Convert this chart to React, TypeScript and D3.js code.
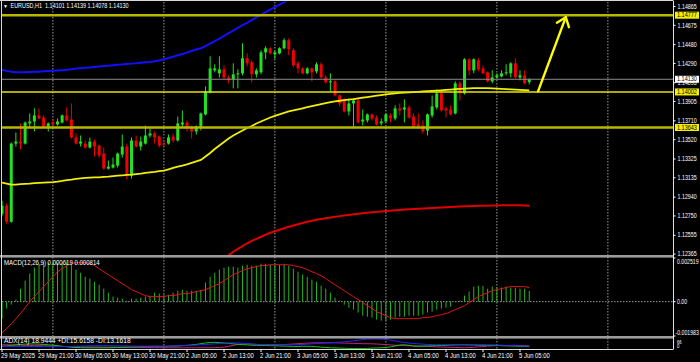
import React from 'react';
import * as d3 from 'd3';

const W = 700;
const H = 362;
const FONT = "'Liberation Sans',Arial,sans-serif";

// ---- categories: H1 bars, 29 May 13:00 .. 5 Jun 07:00
const sessions = [
  { day: '29 May', first: 13, last: 23 },
  { day: '30 May', first: 0, last: 23 },
  { day: '2 Jun', first: 0, last: 23 },
  { day: '3 Jun', first: 0, last: 23 },
  { day: '4 Jun', first: 0, last: 23 },
  { day: '5 Jun', first: 0, last: 7 },
];
const barTimes: string[] = [];
sessions.forEach(s => {
  for (let h = s.first; h <= s.last; h++) barTimes.push(`${s.day} ${String(h).padStart(2, '0')}:00`);
});

const timeTickLabels = ['29 May 2025', '29 May 21:00', '30 May 05:00', '30 May 13:00', '30 May 21:00', '2 Jun 05:00', '2 Jun 13:00', '2 Jun 21:00', '3 Jun 05:00', '3 Jun 13:00', '3 Jun 21:00', '4 Jun 05:00', '4 Jun 13:00', '4 Jun 21:00', '5 Jun 05:00'];
const timeTickBars = [0, 8, 16, 24, 32, 40, 48, 56, 64, 72, 80, 88, 96, 104, 112];
const dayStartBars = [11, 35, 59, 83, 107, 131];

const priceTicks = [1.14865, 1.14675, 1.14480, 1.14290, 1.14095, 1.13905, 1.13710, 1.13520, 1.13325, 1.13135, 1.12940, 1.12750, 1.12555, 1.12365];

// ---- OHLC
const open = [1.12772,1.12853,1.12691,1.13481,1.13501,1.13481,1.13684,1.13704,1.13765,1.13744,1.13653,1.13694,1.13674,1.13694,1.13765,1.13724,1.13542,1.13481,1.13481,1.13441,1.13501,1.13461,1.13380,1.13228,1.13238,1.13258,1.13370,1.13451,1.13157,1.13512,1.13451,1.13481,1.13562,1.13582,1.13552,1.13481,1.13481,1.13552,1.13512,1.13674,1.13694,1.13643,1.13603,1.13653,1.13775,1.13997,1.14220,1.14190,1.14230,1.14149,1.14129,1.14180,1.14190,1.14342,1.14301,1.14180,1.14200,1.14402,1.14443,1.14382,1.14392,1.14443,1.14524,1.14423,1.14291,1.14240,1.14190,1.14240,1.14210,1.14281,1.14149,1.14099,1.14109,1.13967,1.13916,1.13805,1.13886,1.13916,1.13704,1.13714,1.13775,1.13744,1.13684,1.13704,1.13765,1.13734,1.13836,1.13825,1.13846,1.13754,1.13674,1.13663,1.13613,1.13765,1.13846,1.13987,1.13836,1.13825,1.13785,1.14089,1.13987,1.14332,1.14220,1.14321,1.14240,1.14200,1.14109,1.14149,1.14159,1.14190,1.14190,1.14291,1.14149,1.14170,1.14101];
const high = [1.12904,1.12874,1.13491,1.13592,1.13684,1.13704,1.13785,1.13836,1.13836,1.13765,1.13694,1.13724,1.13734,1.13775,1.13846,1.13886,1.13582,1.13562,1.13512,1.13542,1.13522,1.13471,1.13441,1.13309,1.13339,1.13390,1.13572,1.13481,1.13542,1.13562,1.13552,1.13663,1.13633,1.13603,1.13562,1.13512,1.13572,1.13582,1.13754,1.13815,1.13714,1.13663,1.13663,1.13795,1.14058,1.14362,1.14281,1.14362,1.14271,1.14170,1.14291,1.14230,1.14494,1.14392,1.14321,1.14240,1.14423,1.14463,1.14453,1.14423,1.14453,1.14544,1.14544,1.14443,1.14311,1.14251,1.14251,1.14251,1.14301,1.14301,1.14170,1.14190,1.14119,1.13977,1.13937,1.13937,1.13937,1.13937,1.13825,1.13785,1.13785,1.13765,1.13734,1.13785,1.13785,1.13866,1.13886,1.13927,1.13866,1.13785,1.13785,1.13714,1.13785,1.13967,1.14028,1.14028,1.13856,1.13866,1.14109,1.14109,1.14342,1.14342,1.14342,1.14342,1.14271,1.14210,1.14220,1.14190,1.14220,1.14281,1.14301,1.14342,1.14220,1.14220,1.14139];
const low = [1.12752,1.12671,1.12681,1.13451,1.13421,1.13471,1.13643,1.13603,1.13724,1.13643,1.13603,1.13663,1.13663,1.13684,1.13704,1.13532,1.13471,1.13451,1.13431,1.13431,1.13350,1.13339,1.13218,1.13218,1.13228,1.13238,1.13339,1.13117,1.13127,1.13441,1.13410,1.13471,1.13542,1.13481,1.13441,1.13451,1.13471,1.13491,1.13501,1.13643,1.13603,1.13532,1.13572,1.13613,1.13765,1.13987,1.14200,1.14149,1.14129,1.14089,1.14038,1.14038,1.14170,1.14261,1.14099,1.14149,1.14180,1.14332,1.14382,1.14332,1.14382,1.14433,1.14372,1.14251,1.14190,1.14180,1.14180,1.14109,1.14190,1.14139,1.14089,1.14008,1.13957,1.13856,1.13795,1.13765,1.13633,1.13684,1.13663,1.13694,1.13714,1.13663,1.13663,1.13694,1.13694,1.13714,1.13765,1.13694,1.13734,1.13643,1.13633,1.13582,1.13562,1.13744,1.13825,1.13805,1.13744,1.13765,1.13775,1.13916,1.13977,1.14170,1.14190,1.14210,1.14180,1.14099,1.14089,1.14139,1.14149,1.14170,1.14149,1.14139,1.14119,1.14078,1.14078];
const close = [1.12853,1.12691,1.13481,1.13501,1.13481,1.13694,1.13704,1.13765,1.13734,1.13653,1.13684,1.13674,1.13704,1.13765,1.13714,1.13542,1.13481,1.13501,1.13441,1.13501,1.13451,1.13360,1.13228,1.13248,1.13269,1.13380,1.13451,1.13157,1.13512,1.13451,1.13501,1.13562,1.13582,1.13542,1.13461,1.13471,1.13542,1.13512,1.13684,1.13694,1.13643,1.13603,1.13653,1.13785,1.14008,1.14240,1.14240,1.14230,1.14149,1.14119,1.14180,1.14190,1.14342,1.14291,1.14180,1.14220,1.14402,1.14443,1.14392,1.14402,1.14443,1.14524,1.14433,1.14271,1.14240,1.14190,1.14240,1.14200,1.14281,1.14149,1.14099,1.14109,1.13967,1.13886,1.13805,1.13886,1.13916,1.13694,1.13724,1.13775,1.13734,1.13674,1.13704,1.13775,1.13734,1.13836,1.13815,1.13846,1.13744,1.13653,1.13653,1.13603,1.13775,1.13856,1.13987,1.13815,1.13815,1.13775,1.14089,1.13997,1.14332,1.14220,1.14332,1.14230,1.14190,1.14109,1.14149,1.14170,1.14190,1.14200,1.14291,1.14149,1.14170,1.14089,1.14130];

// ---- moving averages
const yellowMA = [1.13086,1.13076,1.13066,1.13066,1.13071,1.13073,1.13076,1.13081,1.13084,1.13086,1.13088,1.13091,1.13096,1.13103,1.13112,1.13117,1.13124,1.13130,1.13134,1.13137,1.13139,1.13140,1.13144,1.13147,1.13152,1.13157,1.13160,1.13164,1.13167,1.13172,1.13177,1.13184,1.13190,1.13195,1.13202,1.13208,1.13221,1.13235,1.13248,1.13258,1.13271,1.13286,1.13301,1.13316,1.13350,1.13385,1.13426,1.13461,1.13496,1.13532,1.13562,1.13587,1.13613,1.13638,1.13658,1.13684,1.13704,1.13724,1.13744,1.13760,1.13775,1.13790,1.13805,1.13815,1.13825,1.13836,1.13848,1.13859,1.13869,1.13879,1.13890,1.13899,1.13906,1.13913,1.13920,1.13925,1.13930,1.13937,1.13944,1.13950,1.13957,1.13964,1.13970,1.13977,1.13982,1.13987,1.13993,1.13996,1.13997,1.14000,1.14003,1.14007,1.14010,1.14012,1.14015,1.14018,1.14022,1.14026,1.14030,1.14033,1.14035,1.14038,1.14040,1.14041,1.14041,1.14040,1.14038,1.14035,1.14033,1.14031,1.14028,1.14025,1.14022,1.14020,1.14018];
const blueMA = [1.14225,1.14215,1.14205,1.14202,1.14202,1.14202,1.14203,1.14205,1.14207,1.14210,1.14213,1.14215,1.14218,1.14222,1.14227,1.14232,1.14238,1.14242,1.14246,1.14250,1.14254,1.14258,1.14263,1.14267,1.14271,1.14276,1.14280,1.14284,1.14288,1.14291,1.14296,1.14301,1.14305,1.14311,1.14321,1.14332,1.14344,1.14357,1.14372,1.14385,1.14399,1.14415,1.14430,1.14443,1.14465,1.14489,1.14516,1.14541,1.14569,1.14595,1.14622,1.14650,1.14676,1.14700,1.14727,1.14754,1.14781,1.14807,1.14833,1.14858,1.14883,1.14909,1.14934,1.14959];
const redMAStart = 46;
const redMA = [1.12246,1.12281,1.12317,1.12352,1.12388,1.12418,1.12446,1.12474,1.12499,1.12519,1.12540,1.12560,1.12580,1.12595,1.12610,1.12625,1.12641,1.12654,1.12666,1.12679,1.12691,1.12702,1.12712,1.12720,1.12727,1.12734,1.12742,1.12748,1.12754,1.12760,1.12767,1.12772,1.12777,1.12783,1.12788,1.12791,1.12795,1.12799,1.12803,1.12807,1.12811,1.12815,1.12818,1.12821,1.12823,1.12826,1.12828,1.12831,1.12833,1.12835,1.12838,1.12840,1.12843,1.12845,1.12848,1.12849,1.12851,1.12852,1.12853,1.12854,1.12855,1.12856,1.12858,1.12858,1.12858,1.12858,1.12858,1.12856,1.12853];

// ---- horizontal levels
const levelPrices = [1.14777, 1.14002, 1.13643];
const bidPrice = 1.14130;
const arrowFrom = { bar: 115.9, price: 1.14008 };
const arrowTo = { bar: 121.9, price: 1.14757 };

// ---- MACD (x1e-5)
const macdMain = [-98,-40,-17,12,75,121,162,196,213,225,225,231,225,225,231,213,185,167,144,133,115,98,75,52,29,23,17,6,17,17,23,29,35,52,46,40,40,52,63,69,63,63,63,69,110,144,167,185,196,202,202,196,208,213,208,208,219,219,213,213,213,219,208,190,173,156,144,127,115,92,75,52,23,6,-17,-35,-46,-63,-81,-87,-92,-104,-110,-110,-104,-92,-87,-87,-81,-81,-81,-75,-63,-58,-46,-40,-35,-29,-3,6,35,58,87,92,92,75,87,81,81,87,81,81,75,75,62];
const macdSignal = [-179,-156,-127,-98,-69,-35,0,29,58,87,115,144,173,190,208,219,225,225,225,219,208,190,173,156,138,121,104,87,69,58,46,35,29,29,29,29,35,35,40,46,46,52,58,63,69,81,92,104,121,138,156,167,179,190,196,202,208,208,213,213,213,213,213,208,202,196,185,173,162,150,133,115,98,81,63,46,29,12,-6,-23,-40,-58,-69,-81,-92,-98,-98,-98,-98,-98,-98,-92,-92,-87,-81,-75,-69,-58,-46,-35,-23,-6,12,29,40,52,63,69,75,81,87,87,87,87,81];
const macdTicks = [251.9, 0, -198.3];
const macdTickLabels = ['0.002519', '0.00', '-0.001983'];

// ---- ADX(14)
const adx = [18,18,17,17,16,16,16,16,16,16,16,16,16,16,16,17,18,19,20,21,22,22,22,22,21,21,20,20,19,19,19,18,18,18,18,18,19,20,21,22,23,24,26,28,30,32,34,36,38,40,41,40,38,36,33,31,29,28,28,28,28,28,28,28,29,30,32,34,36,38,40,41,43,45,47,50,54,58,62,65,66,66,65,63,58,53,47,43,39,36,34,32,30,29,28,28,28,28,28,28,28,28,28,28,28,27,27,26,25,24,23,22,21,20,19];
const plusDI = [18,20,24,28,30,32,33,33,32,30,28,25,22,18,15,12,10,9,8,8,8,8,8,8,9,10,11,12,13,14,15,16,17,18,18,17,18,19,20,22,24,27,30,35,40,43,44,42,40,37,34,31,29,27,25,24,24,23,22,21,20,19,18,17,17,18,18,17,15,12,10,8,7,6,5,4,3,3,3,4,6,7,8,10,14,20,26,28,24,20,18,19,20,21,22,23,24,26,27,28,28,27,26,25,25,24,24,23,22,21,20,19,18,17,16];
const minusDI = [28,28,27,26,25,24,23,22,22,21,20,19,18,17,16,15,15,15,14,14,13,13,12,12,12,12,12,12,11,11,10,10,9,9,9,8,8,8,8,8,8,8,8,8,8,8,9,10,12,18,24,30,33,34,32,30,29,28,28,28,28,29,31,33,35,37,39,40,41,41,41,41,41,40,39,38,37,36,35,35,34,33,31,29,27,25,24,22,21,20,19,18,17,16,14,13,12,11,10,9,8,9,11,14,17,19,21,22,23,23,24,24,23,22,21];

const macdTitle = 'MACD(12,26,9) 0.000619 0.000814';
const adxTitle = 'ADX(14) 18.9444 +DI:15.6158 -DI:13.1618';
const symbolTitle = 'EURUSD,H1';

function T({ x, y, children, fill = '#fff', size = 6.5, sx = 0.85 }: any) {
  return (
    <text transform={`translate(${x},${y}) scale(${sx},1)`} fontSize={size} fill={fill} style={{ whiteSpace: 'pre' }}>
      {children}
    </text>
  );
}

export default function App() {
  const right = 673;
  const x = d3.scaleLinear().domain([0, 114]).range([2, 2 + 114 * 4.625]);
  const y = d3.scaleLinear().domain([1.13643, 1.14777]).range([127.5, 15.2]);
  const ym = d3.scaleLinear().domain([-198.3, 251.9]).range([336, 258]);
  const ya = d3.scaleLinear().domain([0, 66]).range([349, 339]);

  const line = (vals: number[], off: number, sy: (v: number) => number) =>
    d3.line<number>().x((_, i) => x(i + off)).y(d => sy(d)).curve(d3.curveLinear)(vals) || '';

  const fmt = (v: number) => v.toFixed(5);
  const n = open.length - 1;
  const title = `${symbolTitle}  ${fmt(open[n])} ${fmt(high[n])} ${fmt(low[n])} ${fmt(close[n])}`;

  // arrow
  const ax0 = x(arrowFrom.bar), ay0 = y(arrowFrom.price);
  const ax1 = x(arrowTo.bar), ay1 = y(arrowTo.price);
  const ang = Math.atan2(ay0 - ay1, ax0 - ax1);
  const bl = 10.5, spread = 0.66;
  const b1 = [ax1 + bl * Math.cos(ang + spread), ay1 + bl * Math.sin(ang + spread)];
  const b2 = [ax1 + bl * Math.cos(ang - spread), ay1 + bl * Math.sin(ang - spread)];

  const levelStyle = [
    { color: '#b8b800', w: 2.4 },
    { color: '#e4e400', w: 1.6 },
    { color: '#b8b800', w: 2.4 },
  ];

  return (
    <svg width={W} height={H} style={{ position: 'absolute', left: 0, top: 0, background: '#000' }} fontFamily={FONT}>
      <defs>
        <clipPath id="mainClip"><rect x={2} y={1.5} width={right - 2} height={253.5} /></clipPath>
        <clipPath id="macdClip"><rect x={2} y={258} width={right - 2} height={78} /></clipPath>
        <clipPath id="adxClip"><rect x={2} y={338.5} width={right - 2} height={10.5} /></clipPath>
      </defs>
      <rect x={0} y={0} width={W} height={H} fill="#000" />

      {/* vertical grid */}
      {dayStartBars.map(b => (
        <line key={'g' + b} x1={x(b)} x2={x(b)} y1={2} y2={349} stroke="#9a9a9a" strokeWidth={1} strokeDasharray="1.5,1.5" />
      ))}
      {/* macd zero */}
      <line x1={2} x2={right} y1={ym(0)} y2={ym(0)} stroke="#9a9a9a" strokeWidth={1} strokeDasharray="1.5,1.5" />

      {/* main panel */}
      <g clipPath="url(#mainClip)">
        {open.map((o, i) => {
          const c = close[i];
          const up = c >= o;
          const col = up ? '#22e022' : '#f00000';
          const top = y(Math.max(o, c));
          const bot = y(Math.min(o, c));
          return (
            <g key={'c' + i}>
              <line x1={x(i)} x2={x(i)} y1={y(high[i])} y2={y(low[i])} stroke={col} strokeWidth={1} />
              <rect x={x(i) - 1.5} y={top} width={3} height={Math.max(1, bot - top)} fill={col} />
            </g>
          );
        })}
        <path d={line(blueMA, 0, y)} fill="none" stroke="#1010ff" strokeWidth={2} />
        <path d={line(redMA, redMAStart, y)} fill="none" stroke="#e00000" strokeWidth={2} />
        <path d={line(yellowMA, 0, y)} fill="none" stroke="#f0f000" strokeWidth={1.8} />
        {levelPrices.map((p, k) => (
          <line key={'l' + k} x1={2} x2={right} y1={y(p)} y2={y(p)} stroke={levelStyle[k].color} strokeWidth={levelStyle[k].w} />
        ))}
        <line x1={2} x2={right} y1={y(bidPrice)} y2={y(bidPrice)} stroke="#8c8c8c" strokeWidth={1} />
        <line x1={ax0} y1={ay0} x2={ax1} y2={ay1} stroke="#ffff00" strokeWidth={2.4} strokeLinecap="round" />
        <line x1={ax1} y1={ay1} x2={b1[0]} y2={b1[1]} stroke="#ffff00" strokeWidth={2.4} strokeLinecap="round" />
        <line x1={ax1} y1={ay1} x2={b2[0]} y2={b2[1]} stroke="#ffff00" strokeWidth={2.4} strokeLinecap="round" />
      </g>

      {/* MACD panel */}
      <g clipPath="url(#macdClip)">
        {macdMain.map((v, i) => (
          <line key={'h' + i} x1={x(i)} x2={x(i)} y1={ym(0)} y2={ym(v)} stroke="#24b424" strokeWidth={1} />
        ))}
        <path d={line(macdSignal, 0, ym)} fill="none" stroke="#e01414" strokeWidth={1} />
      </g>

      {/* ADX panel */}
      <g clipPath="url(#adxClip)">
        <path d={line(minusDI, 0, ya)} fill="none" stroke="#c8207a" strokeWidth={1} />
        <path d={line(plusDI, 0, ya)} fill="none" stroke="#10c810" strokeWidth={1} />
        <path d={line(adx, 0, ya)} fill="none" stroke="#2424ff" strokeWidth={1} />
      </g>

      {/* frames and separators */}
      <rect x={0} y={255} width={right} height={2.6} fill="#9c9c9c" />
      <rect x={0} y={336} width={right} height={2.6} fill="#9c9c9c" />
      <line x1={1.5} x2={1.5} y1={0.5} y2={349.5} stroke="#d8d8d8" strokeWidth={1} />
      <line x1={0} x2={right} y1={0.5} y2={0.5} stroke="#d8d8d8" strokeWidth={1} />
      <line x1={right + 0.5} x2={right + 0.5} y1={0.5} y2={349.5} stroke="#e0e0e0" strokeWidth={1} />
      <line x1={0} x2={right} y1={349.5} y2={349.5} stroke="#e0e0e0" strokeWidth={1} />

      {/* price axis */}
      {priceTicks.map(p => (
        <g key={'p' + p}>
          <line x1={right} x2={right + 2.5} y1={y(p)} y2={y(p)} stroke="#fff" strokeWidth={1} />
          <T x={677.5} y={y(p) + 2.2} sx={0.82}>{p.toFixed(5)}</T>
        </g>
      ))}
      {levelPrices.map(p => (
        <g key={'lb' + p}>
          <rect x={675} y={y(p) - 3.5} width={24} height={7} fill="#f0f000" />
          <T x={677} y={y(p) + 2.2} fill="#000" sx={0.85}>{p.toFixed(5)}</T>
        </g>
      ))}
      <rect x={675} y={y(bidPrice) - 3.5} width={24} height={7} fill="#fff" />
      <T x={677} y={y(bidPrice) + 2.2} fill="#000" sx={0.85}>{bidPrice.toFixed(5)}</T>

      {macdTicks.map((v, k) => (
        <g key={'m' + k}>
          <line x1={right} x2={right + 2.5} y1={ym(v)} y2={ym(v)} stroke="#fff" strokeWidth={1} />
          <T x={k === 2 ? 675.5 : 677} y={Math.min(Math.max(ym(v) + 2.2, 263.5), 334.5)} sx={0.8}>{macdTickLabels[k]}</T>
        </g>
      ))}
      <T x={677} y={343.8} size={5}>66</T>
      <T x={677} y={348} size={5}>0</T>

      {/* time axis */}
      {timeTickBars.map((b, k) => (
        <g key={'t' + b}>
          <line x1={x(b)} x2={x(b)} y1={349.5} y2={352} stroke="#fff" strokeWidth={1} />
          <T x={x(b) - 1} y={357.8} sx={0.91}>{timeTickLabels[k]}</T>
        </g>
      ))}

      {/* titles */}
      <T x={3} y={7.8} size={5} sx={1}>▼</T>
      <T x={10.5} y={8.3} sx={0.84}>{title}</T>
      <T x={4} y={264.5} sx={0.93}>{macdTitle}</T>
      <T x={4} y={343.3} sx={1.03}>{adxTitle}</T>
    </svg>
  );
}
